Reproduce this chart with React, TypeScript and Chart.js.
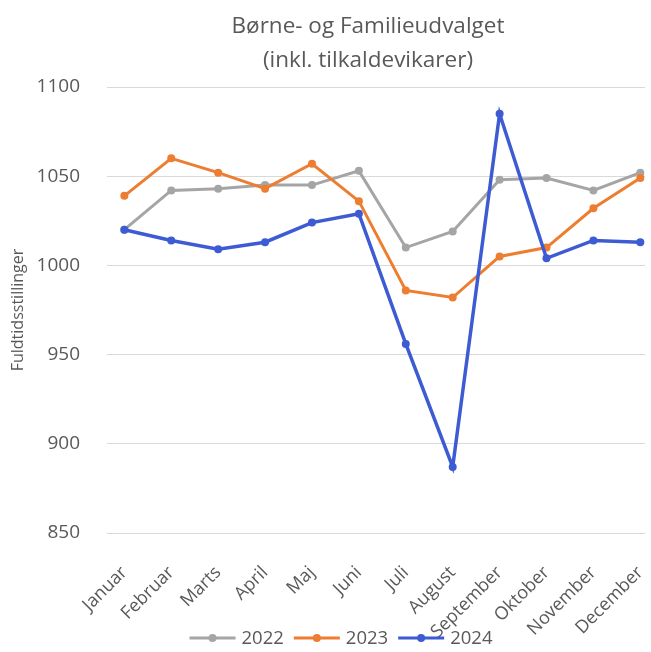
import React, { useEffect, useRef } from "react";
import { Chart, registerables } from "chart.js";

Chart.register(...registerables);

const months = ["Januar", "Februar", "Marts", "April", "Maj", "Juni", "Juli", "August", "September", "Oktober", "November", "December"];
const seriesLabels = ["2022", "2023", "2024"];
const values2022 = [1020, 1042, 1043, 1045, 1045, 1053, 1010, 1019, 1048, 1049, 1042, 1052];
const values2023 = [1039, 1060, 1052, 1043, 1057, 1036, 986, 982, 1005, 1010, 1032, 1049];
const values2024 = [1020, 1014, 1009, 1013, 1024, 1029, 956, 887, 1085, 1004, 1014, 1013];
const seriesColors = ["#A5A5A5", "#ED7D31", "#3D5BD3"];
const titleLines = ["Børne- og Familieudvalget", "(inkl. tilkaldevikarer)"];
const yTicks = [850, 900, 950, 1000, 1050, 1100];

const FONT = "'Open Sans', 'DejaVu Sans', sans-serif";
const TEXT = "#595959";

export default function App() {
  const ref = useRef<HTMLCanvasElement | null>(null);

  useEffect(() => {
    document.body.style.margin = "0";
    document.body.style.background = "#ffffff";
    const canvas = ref.current;
    if (!canvas) return;

    const allValues = [values2022, values2023, values2024];

    const overlay = {
      id: "overlay",
      afterDraw(chart: any) {
        const ctx = chart.ctx as CanvasRenderingContext2D;
        ctx.save();
        // title
        ctx.fillStyle = TEXT;
        ctx.font = `22.5px ${FONT}`;
        ctx.textAlign = "center";
        ctx.textBaseline = "middle";
        ctx.fillText(titleLines[0], 368, 27);
        ctx.fillText(titleLines[1], 368, 61);
        // legend
        ctx.font = `18.5px ${FONT}`;
        ctx.textAlign = "left";
        const lineLen = 46;
        const gap = 6;
        const itemGap = 10;
        const widths = seriesLabels.map((l) => lineLen + gap + ctx.measureText(l).width);
        const total = widths.reduce((a, b) => a + b, 0) + itemGap * (widths.length - 1);
        let x = 341 - total / 2;
        const y = 638;
        seriesLabels.forEach((l, i) => {
          ctx.strokeStyle = seriesColors[i];
          ctx.lineWidth = 3;
          ctx.beginPath();
          ctx.moveTo(x, y);
          ctx.lineTo(x + lineLen, y);
          ctx.stroke();
          ctx.fillStyle = seriesColors[i];
          ctx.beginPath();
          ctx.arc(x + lineLen / 2, y, 4, 0, Math.PI * 2);
          ctx.fill();
          ctx.fillStyle = TEXT;
          ctx.fillText(l, x + lineLen + gap, y + 1);
          x += widths[i] + itemGap;
        });
        ctx.restore();
      },
    };

    const chart = new Chart(canvas, {
      type: "line",
      data: {
        datasets: seriesLabels.map((label, i) => ({
          label,
          data: allValues[i].map((v, j) => ({ x: j, y: v })),
          borderColor: seriesColors[i],
          backgroundColor: seriesColors[i],
          borderWidth: i === 2 ? 3.5 : 3,
          pointRadius: 4,
          pointBorderWidth: 0,
          pointBackgroundColor: seriesColors[i],
          tension: 0,
          order: 3 - i,
        })),
      },
      options: {
        animation: false,
        responsive: false,
        maintainAspectRatio: false,
        layout: { padding: { top: 87, right: 6, bottom: 0, left: 0 } },
        plugins: {
          legend: { display: false },
          title: { display: false },
          tooltip: { enabled: false },
        },
        scales: {
          x: {
            type: "linear",
            min: -0.37,
            max: 11.1,
            afterBuildTicks: (scale: any) => {
              scale.ticks = months.map((_, i) => ({ value: i }));
            },
            afterFit: (scale: any) => {
              scale.height = 652 - 533;
              scale.paddingLeft = 0;
              scale.paddingRight = 0;
            },
            grid: { display: false, drawTicks: false },
            border: { display: false },
            ticks: {
              autoSkip: false,
              maxRotation: 45,
              minRotation: 45,
              padding: 29,
              color: TEXT,
              font: { family: FONT, size: 18 },
              callback: (v: any) => months[v as number] ?? "",
            },
          },
          y: {
            min: 850,
            max: 1100,
            afterBuildTicks: (scale: any) => {
              scale.ticks = yTicks.map((v) => ({ value: v }));
            },
            afterFit: (scale: any) => {
              scale.width = 107;
              scale.paddingTop = 0;
              scale.paddingBottom = 0;
            },
            grid: { color: "#D9D9D9", lineWidth: 1, drawTicks: false },
            border: { display: false },
            ticks: {
              padding: 27,
              color: TEXT,
              font: { family: FONT, size: 19 },
              callback: (v: any) => String(v),
            },
            title: {
              display: true,
              text: "Fuldtidsstillinger",
              color: TEXT,
              font: { family: FONT, size: 16 },
              padding: { top: 9, bottom: 0 },
            },
          },
        },
      },
      plugins: [overlay],
    } as any);

    return () => chart.destroy();
  }, []);

  return (
    <div style={{ width: 651, height: 652, background: "#fff" }}>
      <canvas ref={ref} width={651} height={652} style={{ display: "block", width: 651, height: 652 }} />
    </div>
  );
}
